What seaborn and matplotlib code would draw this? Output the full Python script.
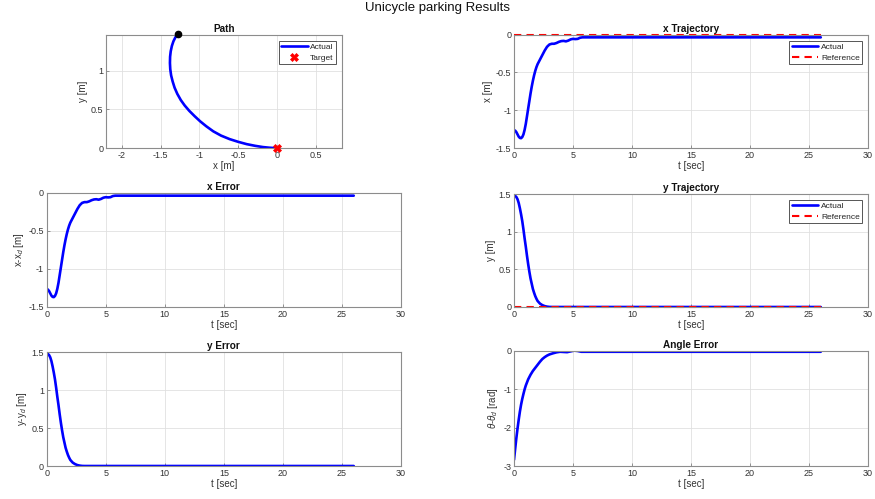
import numpy as np
import pandas as pd
import matplotlib
matplotlib.use("Agg")
import matplotlib.pyplot as plt
import seaborn as sns

# ---- simulation results (unicycle parking controller) ----
t = [0.0, 0.1, 0.2, 0.3, 0.4, 0.5, 0.6, 0.7, 0.8, 0.9, 1.0, 1.1, 1.2, 1.3, 1.4, 1.5,
     1.6, 1.7, 1.8, 1.9, 2.0, 2.2, 2.4, 2.6, 2.8, 3.0, 3.2, 3.4, 3.6, 3.8, 4.0, 4.2,
     4.4, 4.6, 4.8, 5.0, 5.2, 5.4, 5.6, 5.8, 26.0]
x_actual = [-1.265, -1.27, -1.29, -1.32, -1.35, -1.367, -1.37, -1.355, -1.32, -1.26,
            -1.18, -1.08, -0.98, -0.88, -0.78, -0.69, -0.61, -0.54, -0.48, -0.43, -0.39,
            -0.33, -0.27, -0.21, -0.16, -0.13, -0.12, -0.12, -0.11, -0.095, -0.085,
            -0.082, -0.088, -0.078, -0.062, -0.055, -0.058, -0.055, -0.04, -0.035, -0.035]
t_y = [0.0, 0.1, 0.2, 0.3, 0.4, 0.5, 0.6, 0.7, 0.8, 0.9, 1.0, 1.1, 1.2, 1.3, 1.4, 1.5,
       1.6, 1.7, 1.8, 1.9, 2.0, 2.2, 2.4, 2.6, 2.8, 3.0, 3.2, 26.0]
y_actual = [1.48, 1.475, 1.46, 1.43, 1.38, 1.31, 1.23, 1.14, 1.03, 0.91, 0.80, 0.68,
            0.57, 0.47, 0.38, 0.31, 0.24, 0.19, 0.145, 0.11, 0.08, 0.045, 0.025, 0.012,
            0.005, 0.001, 0.0, 0.0]
t_th = [0.0, 0.1, 0.2, 0.3, 0.4, 0.5, 0.6, 0.7, 0.8, 0.9, 1.0, 1.2, 1.4, 1.6, 1.8, 2.0,
        2.2, 2.4, 2.6, 2.8, 3.0, 3.3, 3.6, 3.9, 4.2, 4.5, 4.8, 5.1, 5.4, 5.7, 6.0, 26.0]
theta_err = [-2.84, -2.55, -2.27, -2.02, -1.79, -1.58, -1.40, -1.25, -1.12, -1.00, -0.90,
             -0.74, -0.62, -0.52, -0.44, -0.36, -0.28, -0.21, -0.16, -0.12, -0.09, -0.06,
             -0.035, -0.02, -0.025, -0.03, -0.01, 0.01, 0.0, -0.02, -0.02, -0.02]

path_x = [-1.282, -1.31, -1.335, -1.355, -1.37, -1.378, -1.38, -1.376, -1.365, -1.345,
          -1.32, -1.285, -1.24, -1.19, -1.13, -1.06, -0.99, -0.91, -0.82, -0.72, -0.61,
          -0.5, -0.39, -0.28, -0.18, -0.1, -0.035]
path_y = [1.471, 1.43, 1.38, 1.32, 1.25, 1.18, 1.10, 1.02, 0.94, 0.86, 0.78, 0.70, 0.62,
          0.55, 0.48, 0.41, 0.345, 0.28, 0.215, 0.16, 0.115, 0.08, 0.05, 0.028, 0.012,
          0.004, 0.0]
start_xy = (-1.282, 1.471)
target_xy = (0.0, 0.0)
t_end = 26.0

sns.set_theme(style="whitegrid")
plt.rcParams.update({
    "font.family": ["Liberation Sans", "DejaVu Sans"],
    "axes.edgecolor": "#8c8c8c",
    "axes.linewidth": 0.8,
    "grid.color": "#e0e0e0",
    "grid.linewidth": 0.6,
    "xtick.color": "#6e6e6e",
    "ytick.color": "#6e6e6e",
    "xtick.labelcolor": "#333333",
    "ytick.labelcolor": "#333333",
    "xtick.direction": "in",
    "ytick.direction": "in",
    "xtick.major.size": 2.0,
    "ytick.major.size": 2.0,
    "xtick.major.width": 0.5,
    "ytick.major.width": 0.5,
    "xtick.bottom": True,
    "ytick.left": True,
    "xtick.labelsize": 6.5,
    "ytick.labelsize": 6.5,
    "axes.labelsize": 7,
    "axes.labelcolor": "#333333",
    "mathtext.fontset": "custom",
    "mathtext.rm": "Liberation Sans",
    "mathtext.it": "Liberation Sans:italic",
})

W, H = 875, 499
fig = plt.figure(figsize=(W / 100, H / 100), dpi=100)


def box(left, top, right, bottom):
    return [left / W, 1 - bottom / H, (right - left) / W, (bottom - top) / H]


BLUE = "#0000ff"
RED = "#ff0000"
LW = 1.9

df_x = pd.DataFrame({"t": t, "val": x_actual})
df_y = pd.DataFrame({"t": t_y, "val": y_actual})
df_th = pd.DataFrame({"t": t_th, "val": theta_err})
df_ref = pd.DataFrame({"t": [0.0, t_end], "val": [0.0, 0.0]})
df_path = pd.DataFrame({"x": path_x, "y": path_y})


def style(ax, title, xlabel, ylabel):
    ax.set_title(title, fontsize=7.2, fontweight="bold", pad=2, color="#111111")
    ax.set_xlabel(xlabel, labelpad=1)
    ax.set_ylabel(ylabel, labelpad=2)
    ax.tick_params(pad=2)
    for s in ax.spines.values():
        s.set_visible(True)
        s.set_color("#8c8c8c")
    ax.grid(True)


def legend(ax):
    leg = ax.legend(loc="upper right", fontsize=6, frameon=True, fancybox=False,
                    borderaxespad=0.7, handlelength=3.2, handletextpad=0.3,
                    borderpad=0.3, labelspacing=0.35)
    leg.get_frame().set_edgecolor("#555555")
    leg.get_frame().set_linewidth(0.7)
    leg.get_frame().set_alpha(1)


# ---- Path ----
ax = fig.add_axes(box(106, 34.7, 342, 148))
sns.lineplot(data=df_path, x="x", y="y", sort=False, color=BLUE, lw=LW, ax=ax,
             label="Actual")
ax.plot([start_xy[0]], [start_xy[1]], "o", color="black", ms=4.5, clip_on=False, zorder=5)
ax.plot([target_xy[0]], [target_xy[1]], "X", color=RED, ms=6, mec=RED, mew=0.5,
        clip_on=False, zorder=5, label="Target", linestyle="none")
ax.set_xlim(-2.205, 0.84)
ax.set_ylim(0, 1.465)
ax.set_xticks([-2, -1.5, -1, -0.5, 0, 0.5])
ax.set_xticklabels(["-2", "-1.5", "-1", "-0.5", "0", "0.5"])
ax.set_yticks([0, 0.5, 1])
ax.set_yticklabels(["0", "0.5", "1"])
style(ax, "Path", "x [m]", "y [m]")
legend(ax)

time_ticks = [0, 5, 10, 15, 20, 25, 30]


def time_axes(rect, df, ylim, yticks, yticklabels, title, ylabel, ref=None, baseline=False):
    ax = fig.add_axes(rect)
    if baseline:
        sns.lineplot(data=df_ref, x="t", y="val", color="#555555", lw=0.7,
                     linestyle=(0, (4, 3)), ax=ax)
    sns.lineplot(data=df, x="t", y="val", color=BLUE, lw=LW, ax=ax,
                 label="Actual" if ref else None)
    ax.lines[-1].set_solid_joinstyle("round")
    if ref:
        sns.lineplot(data=df_ref, x="t", y="val", color=RED, lw=1.5,
                     linestyle=(0, (3.5, 2.5)), ax=ax, label="Reference")
        ax.lines[-1].set_clip_on(False)
    ax.set_xlim(0, 30)
    ax.set_ylim(*ylim)
    ax.set_xticks(time_ticks)
    ax.set_xticklabels([str(v) for v in time_ticks])
    ax.set_yticks(yticks)
    ax.set_yticklabels(yticklabels)
    style(ax, title, "t [sec]", ylabel)
    if ref:
        legend(ax)
    return ax


time_axes(box(514, 34.7, 868, 148), df_x, (-1.5, 0), [-1.5, -1, -0.5, 0],
          ["-1.5", "-1", "-0.5", "0"], "x Trajectory", "x [m]", ref=True)
time_axes(box(46.7, 193, 401, 307), df_x, (-1.5, 0), [-1.5, -1, -0.5, 0],
          ["-1.5", "-1", "-0.5", "0"], "x Error", r"x-x$_d$ [m]", baseline=True)
time_axes(box(514, 194, 868, 307), df_y, (0, 1.5), [0, 0.5, 1, 1.5],
          ["0", "0.5", "1", "1.5"], "y Trajectory", "y [m]", ref=True)
time_axes(box(46.7, 352, 401, 466), df_y, (0, 1.5), [0, 0.5, 1, 1.5],
          ["0", "0.5", "1", "1.5"], "y Error", r"y-y$_d$ [m]", baseline=True)
time_axes(box(514, 351, 868, 466), df_th, (-3, 0), [-3, -2, -1, 0],
          ["-3", "-2", "-1", "0"], "Angle Error", r"$\theta$-$\theta_d$ [rad]", baseline=True)

fig.suptitle("Unicycle parking Results", fontsize=9.5, y=1 - 8 / H, va="center",
             color="#111111")

fig.savefig("out.png", dpi=100, facecolor="white")
